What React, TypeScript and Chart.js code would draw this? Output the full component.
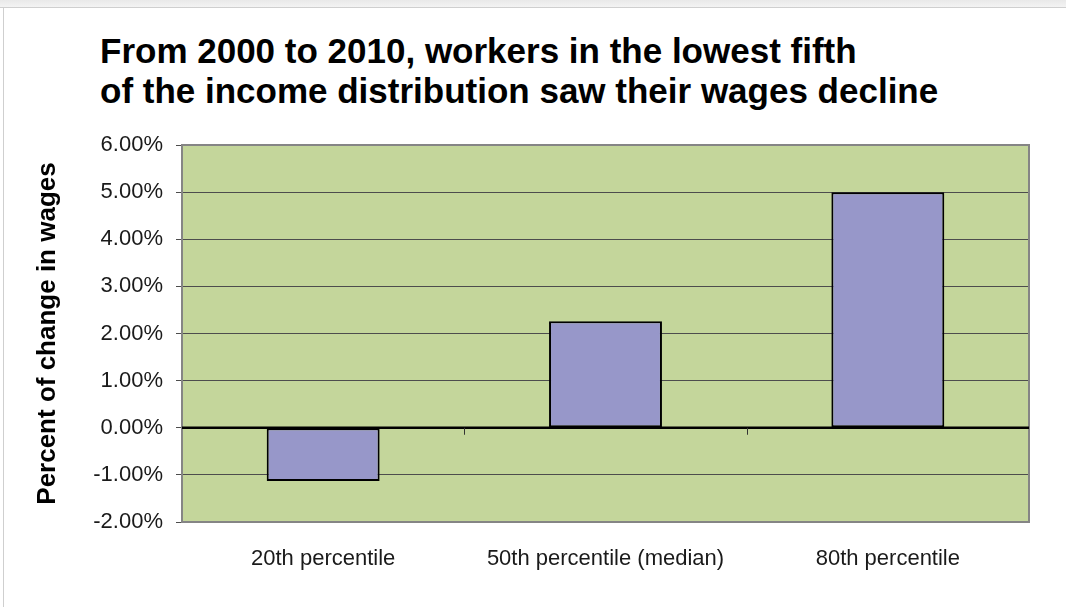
import React, { useEffect, useRef } from "react";
import { Chart, registerables } from "chart.js";

Chart.register(...registerables);

const titleLines = [
  "From 2000 to 2010, workers in the lowest fifth",
  "of the income distribution saw their wages decline",
];
const categories = ["20th percentile", "50th percentile (median)", "80th percentile"];
const wageChange = [-1.13, 2.26, 5.0];
const yMin = -2;
const yMax = 6;
const yStep = 1;
const yAxisTitle = "Percent of change in wages";

const GREEN = "#c4d69b";
const PURPLE = "#9797c9";

const plotDecor = {
  id: "plotDecor",
  beforeDraw(chart: any) {
    const { ctx, chartArea: a } = chart;
    ctx.save();
    ctx.fillStyle = GREEN;
    ctx.fillRect(a.left, a.top, a.right - a.left, a.bottom - a.top);
    ctx.restore();
  },
  afterDatasetsDraw(chart: any) {
    const { ctx, chartArea: a, scales } = chart;
    const x = scales.x;
    const y = scales.y;
    ctx.save();
    ctx.strokeStyle = "#858585";
    ctx.lineWidth = 2;
    ctx.strokeRect(a.left, a.top, a.right - a.left, a.bottom - a.top);
    const y0 = y.getPixelForValue(0);
    ctx.strokeStyle = "#000";
    ctx.lineWidth = 2.5;
    ctx.beginPath();
    ctx.moveTo(a.left, y0);
    ctx.lineTo(a.right, y0);
    ctx.stroke();
    ctx.lineWidth = 1;
    ctx.strokeStyle = "#333";
    for (let i = 1; i < categories.length; i++) {
      const bx = Math.round((x.getPixelForValue(i - 1) + x.getPixelForValue(i)) / 2) + 0.5;
      ctx.beginPath();
      ctx.moveTo(bx, y0);
      ctx.lineTo(bx, y0 + 7);
      ctx.stroke();
    }
    ctx.restore();
  },
};

export default function App() {
  const ref = useRef<HTMLCanvasElement | null>(null);

  useEffect(() => {
    if (!ref.current) return;
    const chart = new Chart(ref.current, {
      type: "bar",
      data: {
        labels: categories,
        datasets: [
          {
            data: wageChange,
            backgroundColor: PURPLE,
            borderColor: "#000",
            borderWidth: 2,
            borderSkipped: false,
            barPercentage: 0.4,
            categoryPercentage: 1.0,
          },
        ],
      },
      options: {
        animation: false,
        responsive: true,
        maintainAspectRatio: false,
        layout: { padding: { left: 0, top: 145, right: 37, bottom: 0 } },
        plugins: {
          legend: { display: false },
          tooltip: { enabled: false },
          title: { display: false },
        },
        scales: {
          x: {
            grid: { display: false, drawTicks: false },
            border: { display: true, color: "#858585", width: 2 },
            ticks: {
              color: "#1a1a1a",
              padding: 24,
              font: { family: "'Liberation Sans', Arial, sans-serif", size: 22 },
              maxRotation: 0,
            },
            afterFit: (s: any) => {
              s.height = 85;
            },
          },
          y: {
            min: yMin,
            max: yMax,
            ticks: {
              stepSize: yStep,
              color: "#1a1a1a",
              padding: 13,
              font: { family: "'Liberation Sans', Arial, sans-serif", size: 22 },
              callback: (v: any) => Number(v).toFixed(2) + "%",
            },
            grid: {
              color: "#4d4d4d",
              lineWidth: 1,
              tickLength: 6,
              drawTicks: true,
            },
            border: { display: true, color: "#858585", width: 2 },
            title: {
              display: true,
              text: yAxisTitle,
              color: "#000",
              font: { family: "'Liberation Sans', Arial, sans-serif", size: 26, weight: "bold" },
              padding: { top: 32, bottom: 0 },
            },
            afterFit: (s: any) => {
              s.width = 182;
            },
          },
        },
      },
      plugins: [plotDecor],
    });
    return () => chart.destroy();
  }, []);

  return (
    <div
      style={{
        position: "absolute",
        left: 0,
        top: 0,
        width: 1066,
        height: 607,
        background: "#fff",
        overflow: "hidden",
      }}
    >
      <div
        style={{
          position: "absolute",
          left: 0,
          top: 0,
          width: 1066,
          height: 7,
          background: "linear-gradient(#e9e9e9, #f3f3f3)",
          borderBottom: "1px solid #cfcfcf",
        }}
      />
      <div
        style={{
          position: "absolute",
          left: 3,
          top: 8,
          width: 1,
          height: 599,
          background: "#cfcfcf",
        }}
      />
      <div
        style={{
          position: "absolute",
          left: 100,
          top: 31,
          fontFamily: "'Liberation Sans', Arial, sans-serif",
          fontWeight: "bold",
          fontSize: 35,
          lineHeight: "40px",
          color: "#000",
          whiteSpace: "nowrap",
        }}
      >
        {titleLines.map((t, i) => (
          <div key={i}>{t}</div>
        ))}
      </div>
      <div style={{ position: "absolute", left: 0, top: 0, width: 1066, height: 607 }}>
        <canvas ref={ref} />
      </div>
    </div>
  );
}
